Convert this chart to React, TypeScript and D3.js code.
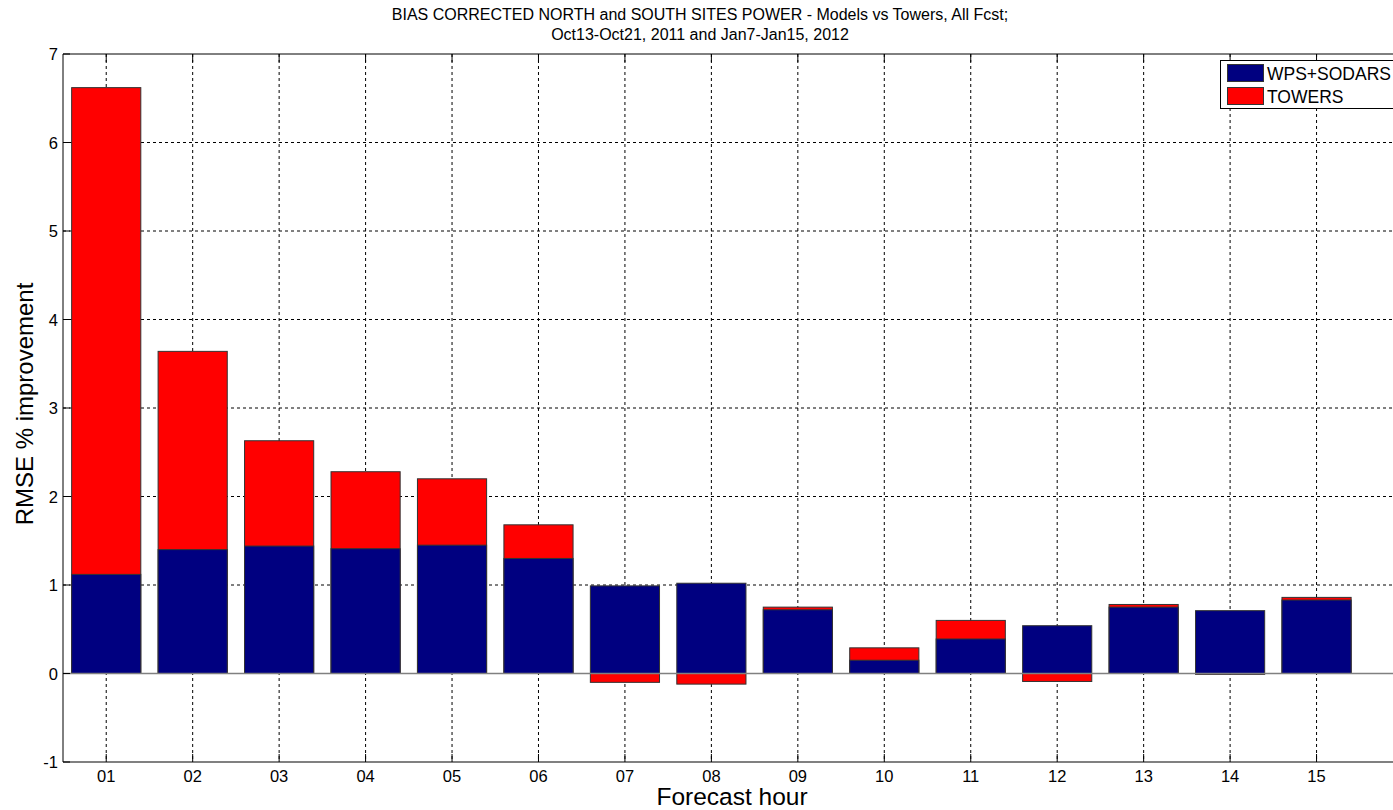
import React from 'react';
import * as d3 from 'd3';

// forecast hours and the two series (RMSE % improvement)
const hours = ['01', '02', '03', '04', '05', '06', '07', '08', '09', '10', '11', '12', '13', '14', '15'];
const towers = [6.62, 3.64, 2.63, 2.28, 2.2, 1.68, -0.1, -0.12, 0.75, 0.29, 0.6, -0.09, 0.78, -0.01, 0.86];
const wpsSodars = [1.12, 1.4, 1.44, 1.41, 1.45, 1.3, 0.99, 1.02, 0.72, 0.15, 0.39, 0.54, 0.75, 0.71, 0.83];
const yTicks = [-1, 0, 1, 2, 3, 4, 5, 6, 7];
const legendItems = ['WPS+SODARS', 'TOWERS'];

const W = 1393;
const H = 810;
const left = 63;
const top = 54;
const bottom = 762;
const right = 1403;

const App = () => {
  const x = d3.scaleLinear().domain([0.5, 16]).range([left, right]);
  const y = d3.scaleLinear().domain([-1, 7]).range([bottom, top]);
  const bw = (x(1) - x(0)) * 0.8;
  const font = 'Arial, "Liberation Sans", sans-serif';
  const colors = ['#000080', '#ff0000'];

  const bar = (v: number, i: number, fill: string, key: string) => {
    const y0 = y(0);
    const y1 = y(v);
    return (
      <rect key={key} x={x(i + 1) - bw / 2} y={Math.min(y0, y1)} width={bw}
        height={Math.abs(y1 - y0)} fill={fill} stroke='#333' strokeWidth={1} />
    );
  };

  return (
    <svg width={W} height={H} style={{ position: 'absolute', left: 0, top: 0, background: '#fff' }}
      fontFamily={font}>
      <rect x={0} y={0} width={W} height={H} fill='#fff' />
      {/* grid */}
      {yTicks.slice(1, -1).map((t) => (
        <line key={'gy' + t} x1={left} x2={right} y1={y(t)} y2={y(t)}
          stroke='#000' strokeWidth={1} strokeDasharray='3,3' />
      ))}
      {hours.map((h, i) => (
        <line key={'gx' + h} x1={x(i + 1)} x2={x(i + 1)} y1={top} y2={bottom}
          stroke='#000' strokeWidth={1} strokeDasharray='3,3' />
      ))}
      {/* bars: towers behind, wps+sodars in front */}
      {towers.map((v, i) => bar(v, i, colors[1], 't' + i))}
      {wpsSodars.map((v, i) => bar(v, i, colors[0], 'w' + i))}
      {/* baseline */}
      <line x1={left} x2={right} y1={y(0)} y2={y(0)} stroke='#808080' strokeWidth={1.5} />
      {/* axes box */}
      <line x1={left} x2={right} y1={top} y2={top} stroke='#000' strokeWidth={1} />
      <line x1={left} x2={right} y1={bottom} y2={bottom} stroke='#808080' strokeWidth={2} />
      <line x1={left} x2={left} y1={top} y2={bottom} stroke='#000' strokeWidth={1} />
      {/* y ticks */}
      {yTicks.map((t) => (
        <g key={'yt' + t}>
          <line x1={left} x2={left + 7} y1={y(t)} y2={y(t)} stroke='#000' />
          <text x={left - 5} y={y(t) + 6} textAnchor='end' fontSize={16.5}>{t}</text>
        </g>
      ))}
      {/* x ticks */}
      {hours.map((h, i) => (
        <g key={'xt' + h}>
          <line x1={x(i + 1)} x2={x(i + 1)} y1={bottom} y2={bottom - 8} stroke='#000' />
          <line x1={x(i + 1)} x2={x(i + 1)} y1={top} y2={top + 8} stroke='#000' />
          <text x={x(i + 1)} y={bottom + 20} textAnchor='middle' fontSize={16.5}>{h}</text>
        </g>
      ))}
      {/* title */}
      <text x={700} y={20} textAnchor='middle' fontSize={16}>
        BIAS CORRECTED NORTH and SOUTH SITES POWER - Models vs Towers, All Fcst;
      </text>
      <text x={700} y={40} textAnchor='middle' fontSize={16}>
        Oct13-Oct21, 2011 and Jan7-Jan15, 2012
      </text>
      {/* axis labels */}
      <text x={732} y={805} textAnchor='middle' fontSize={24.5}>Forecast hour</text>
      <text transform={`translate(33,${(top + bottom) / 2 - 4}) rotate(-90)`} textAnchor='middle'
        fontSize={24}>RMSE % improvement</text>
      {/* legend */}
      <rect x={1220.5} y={60.5} width={190} height={48} fill='#fff' stroke='#000' strokeWidth={1} />
      {legendItems.map((name, i) => (
        <g key={name}>
          <rect x={1227.5} y={64.5 + i * 23} width={36} height={17} fill={colors[i]} stroke='#333' />
          <text x={1267} y={80 + i * 23} fontSize={17.5}>{name}</text>
        </g>
      ))}
    </svg>
  );
};

export default App;
